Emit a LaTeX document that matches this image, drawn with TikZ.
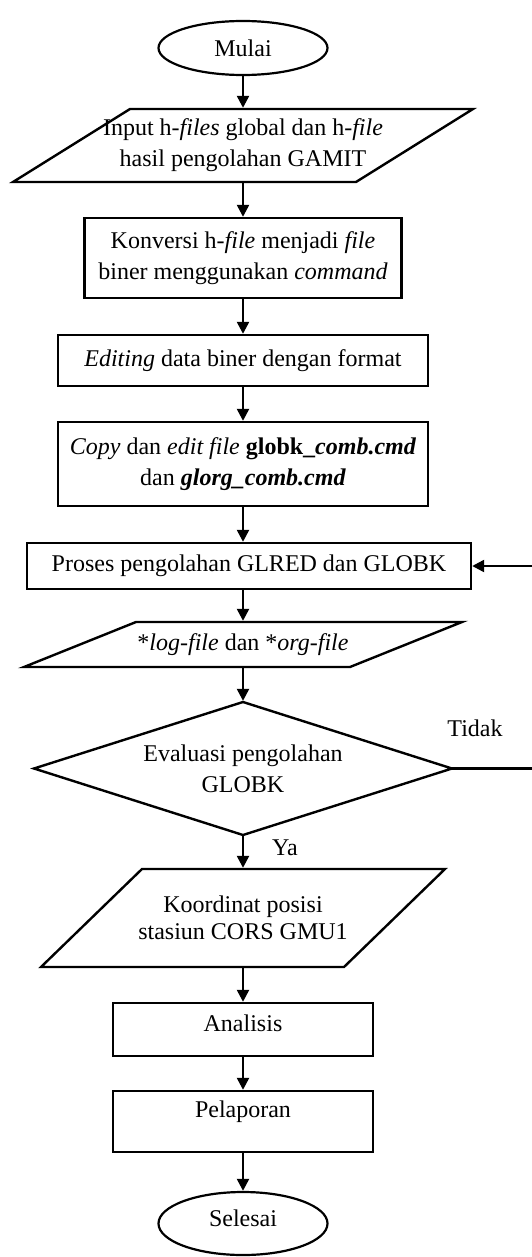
\documentclass[tikz,border=0pt]{standalone}
\usepackage{fontspec}
\setmainfont{Liberation Serif}
\usetikzlibrary{shapes.geometric, arrows.meta, positioning, calc}
\newcommand{\flowfont}{\fontsize{12}{15.5}\selectfont}
\tikzset{
  termbox/.style={ellipse, draw, line width=1.1pt, minimum width=84.5pt, minimum height=27pt, inner sep=0pt, outer sep=0pt, font=\flowfont},
  procbox/.style={rectangle, draw, line width=1.2pt, align=center, inner sep=2pt, outer sep=0pt, font=\flowfont},
  iobox/.style={rectangle, align=center, inner sep=0pt, outer sep=0pt, font=\flowfont},
  ioline/.style={line width=1.2pt, line join=miter},
  decbox/.style={diamond, draw, line width=1.2pt, aspect=3.14, inner sep=1pt, outer sep=0pt, align=center, minimum width=209pt, minimum height=66.5pt, font=\flowfont},
  arr/.style={-{Triangle[length=6pt, width=6pt]}, line width=1.2pt, shorten >=0.6pt},
  lbl/.style={font=\flowfont, inner sep=0pt},
}

\begin{document}
\begin{tikzpicture}
  \useasboundingbox (0,0) rectangle (265.5pt,-628.5pt);

  % Input stage
  \node[termbox] (mulai) at (121.5pt,-24pt) {Mulai};
  \node[iobox, minimum width=171.5pt, minimum height=36.5pt, below=17pt of mulai] (input) {Input h-\textit{files} global dan h-\textit{file}\\hasil pengolahan GAMIT};
  \draw[ioline] ([xshift=29.25pt]input.north west) -- ([xshift=29.25pt]input.north east) -- ([xshift=-29.25pt]input.south east) -- ([xshift=-29.25pt]input.south west) -- cycle;

  % Preparation
  \node[procbox, minimum width=158.5pt, minimum height=40pt, below=18pt of input] (konversi) {Konversi h-\textit{file} menjadi \textit{file}\\biner menggunakan \textit{command}};
  \node[procbox, minimum width=185pt, minimum height=25.5pt, below=18.5pt of konversi] (editing) {\textit{Editing} data biner dengan format};
  \node[procbox, minimum width=185pt, minimum height=42pt, below=18pt of editing] (copy) {\textit{Copy} dan \textit{edit file} \textbf{globk\_\textit{comb.cmd}}\\dan \textbf{\textit{glorg\_comb.cmd}}};

  % Processing and evaluation
  \node[procbox, minimum width=222pt, minimum height=23pt, below=18.5pt of copy, xshift=3pt] (proses) {Proses pengolahan GLRED dan GLOBK};
  \node[iobox, minimum width=163pt, minimum height=22.5pt, below=16.5pt of proses, xshift=-3pt] (logfile) {*\textit{log-file} dan *\textit{org-file}};
  \draw[ioline] ([xshift=28pt]logfile.north west) -- ([xshift=28pt]logfile.north east) -- ([xshift=-28pt]logfile.south east) -- ([xshift=-28pt]logfile.south west) -- cycle;
  \node[decbox, below=17.5pt of logfile] (evaluasi) {Evaluasi pengolahan\\GLOBK};
  \node[lbl] (tidak) at ([xshift=11.5pt, yshift=20pt]evaluasi.east) {Tidak};
  \node[lbl] (ya) at ([xshift=21pt, yshift=-6.5pt]evaluasi.south) {Ya};

  % Results
  \node[iobox, minimum width=151.5pt, minimum height=49pt, below=17pt of evaluasi, font=\fontsize{12}{13.5}\selectfont] (koordinat) {Koordinat posisi\\stasiun CORS GMU1};
  \draw[ioline] ([xshift=25.25pt]koordinat.north west) -- ([xshift=25.25pt]koordinat.north east) -- ([xshift=-25.25pt]koordinat.south east) -- ([xshift=-25.25pt]koordinat.south west) -- cycle;
  \node[procbox, minimum width=130pt, minimum height=26.5pt, text depth=6.5pt, below=18pt of koordinat] (analisis) {Analisis};
  \node[procbox, minimum width=130pt, minimum height=30.5pt, text depth=12pt, below=17.5pt of analisis] (pelaporan) {Pelaporan};
  \node[termbox, minimum height=31.5pt, text depth=5pt, below=20pt of pelaporan] (selesai) {Selesai};

  % Connectors
  \draw[arr] (mulai) -- (input);
  \draw[arr] (input) -- (konversi);
  \draw[arr] (konversi) -- (editing);
  \draw[arr] (editing) -- (copy);
  \draw[arr] (copy.south) -- (copy.south |- proses.north);
  \draw[arr] (logfile.north |- proses.south) -- (logfile.north);
  \draw[arr] (logfile) -- (evaluasi);
  \draw[arr] (evaluasi) -- (koordinat);
  \draw[arr] (koordinat) -- (analisis);
  \draw[arr] (analisis) -- (pelaporan);
  \draw[arr] (pelaporan) -- (selesai);
  \draw[arr] (evaluasi.east) -- ++(45pt,0) |- (proses.east);
\end{tikzpicture}
\end{document}
